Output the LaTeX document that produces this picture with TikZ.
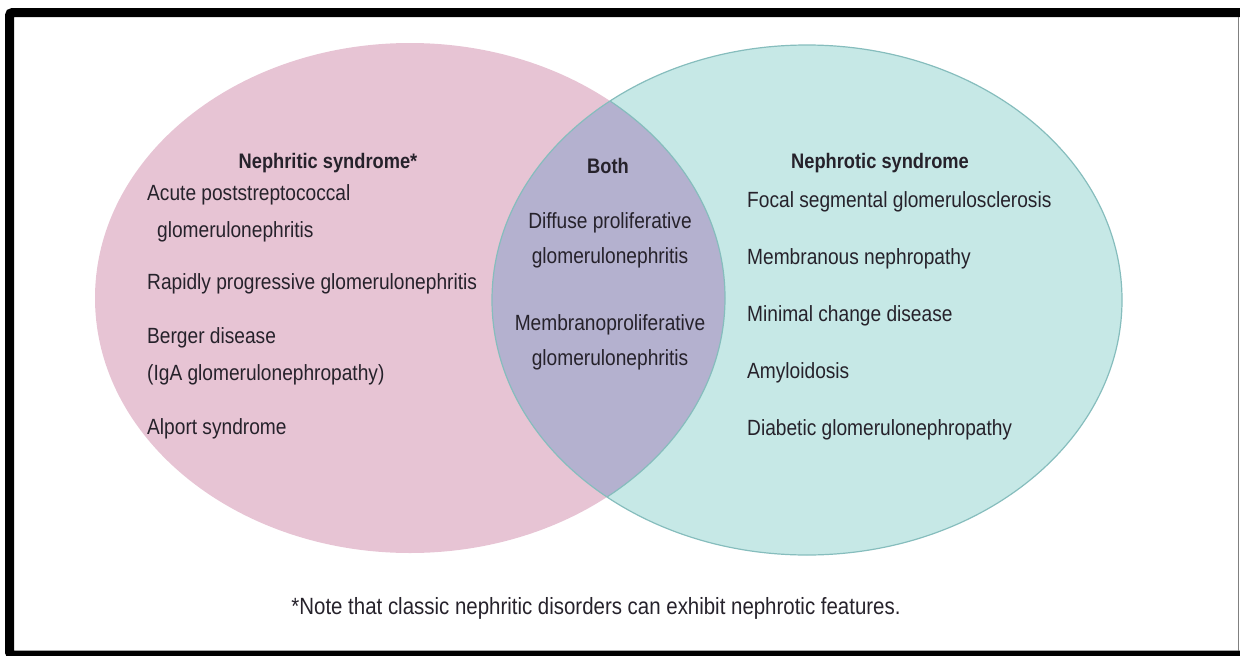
\documentclass[tikz,border=0pt]{standalone}
\usepackage{fontspec}
\setmainfont[FakeStretch=0.87]{Liberation Sans}
\usepackage{tikz}
\usetikzlibrary{
	positioning				% relative placement
	, backgrounds
}

\definecolor{nephriticPink}{HTML}{E7C4D4}
\definecolor{nephroticTeal}{HTML}{C6E8E6}
\definecolor{bothLens}{HTML}{B4B1CF}
\definecolor{rimTeal}{HTML}{86BDBD}
\definecolor{inkGrey}{HTML}{26222B}

\begin{document}
\begin{tikzpicture}[
				x=1pt, y=-1pt,
				item/.style={
					anchor=west,
					align=left,
					text=inkGrey,
					inner sep=0pt,
					font=\fontsize{22}{37}\selectfont
				},
				midItem/.style={
					item,
					anchor=center,
					align=center,
					font=\fontsize{22}{35}\selectfont
				},
				heading/.style={
					anchor=center,
					text=inkGrey,
					inner sep=0pt,
					font=\fontsize{21}{25}\selectfont\bfseries
				},
				rim/.style={
					draw=rimTeal,
					line width=1.2pt
				}]

			\useasboundingbox (0,0) rectangle (1240,656);

			%%% The two syndromes and their overlap
			\fill [nephriticPink] (410,298) ellipse [x radius=315, y radius=255];
			\fill [nephroticTeal] (807,300) ellipse [x radius=315, y radius=255];
			\begin{scope}
				\clip (410,298) ellipse [x radius=315, y radius=255];
				\fill [bothLens] (807,300) ellipse [x radius=315, y radius=255];
			\end{scope}
			% Right rim of the lens
			\begin{scope}
				\clip (807,300) ellipse [x radius=315, y radius=255];
				\draw [rim] (410,298) ellipse [x radius=315, y radius=255];
			\end{scope}
			\draw [rim] (807,300) ellipse [x radius=315, y radius=255];

			%%% Headings
			\node [heading] (nephritic) at (328,163) {Nephritic syndrome*};
			\node [heading] (both) at (608,166) {Both};
			\node [heading] (nephrotic) at (880,163) {Nephrotic syndrome};

			%%% Nephritic side
			\node [item] (acutePSGN) at (147,213) {Acute poststreptococcal\\\hspace{10pt}glomerulonephritis};
			\node [item] (rapidGN) at (147,284) {Rapidly progressive glomerulonephritis};
			\node [item] (berger) at (147,356) {Berger disease\\(IgA glomerulonephropathy)};
			\node [item] (alport) at (147,429) {Alport syndrome};

			%%% Overlap
			\node [midItem] (diffuseGN) at (610,240) {Diffuse proliferative\\glomerulonephritis};
			\node [midItem] (mpgn) at (610,342) {Membranoproliferative\\glomerulonephritis};

			%%% Nephrotic side
			\foreach [count=\i] \disease in {Focal segmental glomerulosclerosis, Membranous nephropathy, Minimal change disease, Amyloidosis, Diabetic glomerulonephropathy} {
				\node [item] (nephrotic\i) at (747, {202+57*(\i-1)}) {\disease};
			};

			%%% Footnote
			\node [item, anchor=center, font=\fontsize{23.5}{28}\selectfont] (note) at (596,608) {*Note that classic nephritic disorders can exhibit nephrotic features.};

			%%% Frame
			\draw [line width=9pt, rounded corners=3pt] (1240,12.5) -- (9.5,12.5) -- (9.5,655) -- (1240,655);
			\draw [gray, line width=1.5pt] (1238.5,17) -- (1238.5,651);

		\end{tikzpicture}
\end{document}
